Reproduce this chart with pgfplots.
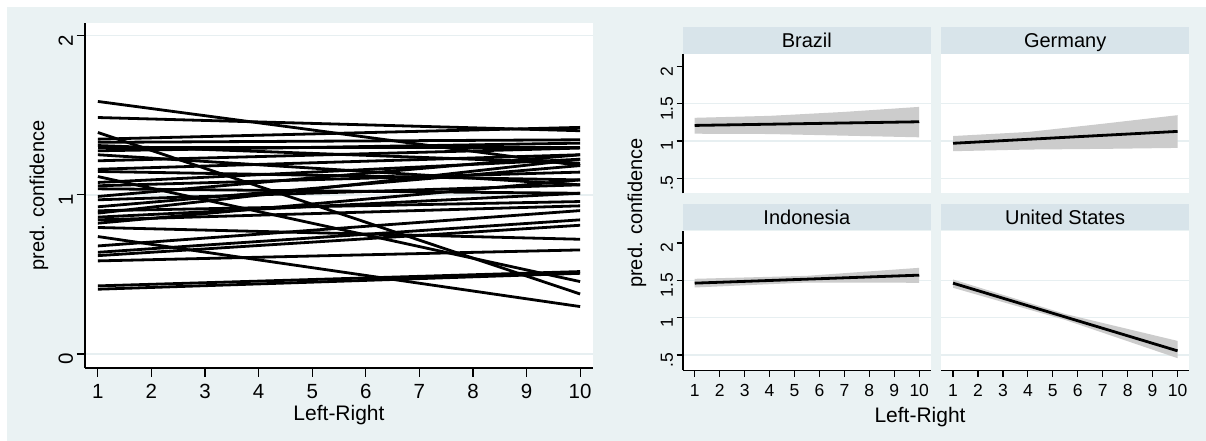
\documentclass[border=0pt]{standalone}
\usepackage{fontspec}
\setmainfont{Liberation Sans}
\usepackage{pgfplots}
\pgfplotsset{compat=1.18}

\definecolor{bgc}{RGB}{234,242,243}
\definecolor{stripc}{RGB}{216,228,234}
\definecolor{gridc}{RGB}{231,239,241}
\definecolor{cic}{RGB}{204,204,204}

\pgfplotsset{
  statastyle/.style={
    scale only axis, anchor=north west,
    /pgf/number format/assume math mode=true,
    axis background/.style={fill=white},
    separate axis lines,
    axis line style={-, line width=1.2pt, black},
    tick align=outside,
    tick style={line width=1.2pt, black},
    ymajorgrids, major grid style={gridc, line width=1.3pt},
    yticklabel style={rotate=90, anchor=south, xshift=-5pt},
    xticklabel style={yshift=-4pt},
    cycle list={{black, solid, mark=none}},
    every axis plot post/.append style={line width=2.8pt},
  },
  facet/.style={
    statastyle, width=247.7pt, height=139.5pt,
    xmin=0.53, xmax=10.46, ymin=0.297, ymax=2.164,
    xtick={1,...,10},
    ytick={0.5,1,1.5}, yticklabels={.5,1,1.5},
    major tick length=6.5pt,
    tick label style={font=\fontsize{17.5}{21}\selectfont},
    every axis title/.style={at={(0.5,1)}, anchor=south, fill=stripc,
      minimum width=247.7pt, minimum height=26.5pt, inner sep=0pt,
      text height=14.3pt, text depth=0pt, font=\fontsize{20}{24}\selectfont},
  },
}

\begin{document}
\begin{tikzpicture}
\fill[white] (0pt,0pt) rectangle (1206pt,441pt);
\fill[bgc] (7pt,0pt) rectangle (1206pt,434pt);

% predicted confidence by left-right position, one line per country
\begin{axis}[statastyle, at={(85pt,418pt)}, width=508pt, height=345pt,
  xmin=0.76, xmax=10.24, ymin=-0.088, ymax=2.08,
  axis x line*=bottom, axis y line*=left,
  xtick={1,...,10}, ytick={0,1,2},
  major tick length=8.5pt,
  tick label style={font=\fontsize{20.5}{24}\selectfont},
  xlabel={Left-Right}, ylabel={pred. confidence},
  every axis x label/.style={at={(axis description cs:0.5,0)}, anchor=north,
    inner sep=0pt, yshift=-37pt, font=\fontsize{21}{25}\selectfont},
  every axis y label/.style={at={(axis description cs:0,0.5)}, xshift=-46pt,
    rotate=90, anchor=center, inner sep=0pt, font=\fontsize{20}{24}\selectfont},
]
\addplot coordinates {(1,1.587) (10,1.184)};
\addplot coordinates {(1,1.486) (10,1.403)};
\addplot coordinates {(1,1.392) (10,0.377)};
\addplot coordinates {(1,1.350) (10,1.424)};
\addplot coordinates {(1,1.330) (10,1.346)};
\addplot coordinates {(1,1.310) (10,1.199)};
\addplot coordinates {(1,1.300) (10,1.300)};
\addplot coordinates {(1,1.277) (10,1.325)};
\addplot coordinates {(1,1.252) (10,1.063)};
\addplot coordinates {(1,1.214) (10,1.294)};
\addplot coordinates {(1,1.161) (10,1.252)};
\addplot coordinates {(1,1.147) (10,1.094)};
\addplot coordinates {(1,1.115) (10,0.455)};
\addplot coordinates {(1,1.078) (10,1.224)};
\addplot coordinates {(1,1.057) (10,1.143)};
\addplot coordinates {(1,1.038) (10,1.010)};
\addplot coordinates {(1,0.990) (10,1.252)};
\addplot coordinates {(1,0.969) (10,1.063)};
\addplot coordinates {(1,0.925) (10,1.184)};
\addplot coordinates {(1,0.900) (10,0.958)};
\addplot coordinates {(1,0.885) (10,1.224)};
\addplot coordinates {(1,0.860) (10,1.010)};
\addplot coordinates {(1,0.843) (10,0.931)};
\addplot coordinates {(1,0.822) (10,1.094)};
\addplot coordinates {(1,0.795) (10,0.721)};
\addplot coordinates {(1,0.738) (10,0.298)};
\addplot coordinates {(1,0.679) (10,0.901)};
\addplot coordinates {(1,0.639) (10,0.843)};
\addplot coordinates {(1,0.618) (10,0.809)};
\addplot coordinates {(1,0.585) (10,0.654)};
\addplot coordinates {(1,0.428) (10,0.518)};
\addplot coordinates {(1,0.407) (10,0.507)};
\end{axis}

% Brazil
\begin{axis}[facet, at={(683pt,387pt)}, title={Brazil},
  axis x line=none, axis y line*=left,
  extra y ticks={2}, extra y tick labels={2}, extra y tick style={grid=none},
  ylabel={pred. confidence},
  every axis y label/.style={at={(axis description cs:0,-0.14)}, xshift=-46pt,
    rotate=90, anchor=center, inner sep=0pt, font=\fontsize{20}{24}\selectfont},
]
\addplot[fill=cic, draw=none] coordinates {(1,1.310) (4,1.336) (7,1.389) (10,1.456)
  (10,1.049) (7,1.071) (4,1.093) (1,1.097)} -- cycle;
\addplot coordinates {(1,1.208) (10,1.257)};
\end{axis}

% Germany
\begin{axis}[facet, at={(941.3pt,387pt)}, title={Germany},
  axis x line=none, axis y line*=left,
  y axis line style={draw=none}, ytick style={draw=none}, yticklabels={,,},
]
\addplot[fill=cic, draw=none] coordinates {(1,1.066) (4,1.120) (7,1.230) (10,1.345)
  (10,0.907) (7,0.894) (4,0.885) (1,0.863)} -- cycle;
\addplot coordinates {(1,0.969) (10,1.128)};
\end{axis}

% Indonesia
\begin{axis}[facet, at={(683pt,210.3pt)}, title={Indonesia},
  axis x line*=bottom, axis y line*=left,
  extra y ticks={2}, extra y tick labels={2}, extra y tick style={grid=none},
  xlabel={Left-Right},
  every axis x label/.style={at={(axis description cs:0.957,0)}, anchor=north,
    inner sep=0pt, yshift=-37pt, font=\fontsize{21}{25}\selectfont},
]
\addplot[fill=cic, draw=none] coordinates {(1,1.520) (5.5,1.560) (10,1.667)
  (10,1.467) (5.5,1.470) (1,1.404)} -- cycle;
\addplot coordinates {(1,1.462) (10,1.569)};
\end{axis}

% United States
\begin{axis}[facet, at={(941.3pt,210.3pt)}, title={United States},
  axis x line*=bottom, axis y line*=left,
  y axis line style={draw=none}, ytick style={draw=none}, yticklabels={,,},
]
\addplot[fill=cic, draw=none] coordinates {(1,1.511) (5.5,1.049) (10,0.689)
  (10,0.458) (5.5,0.969) (1,1.400)} -- cycle;
\addplot coordinates {(1,1.462) (10,0.556)};
\end{axis}
\end{tikzpicture}
\end{document}
